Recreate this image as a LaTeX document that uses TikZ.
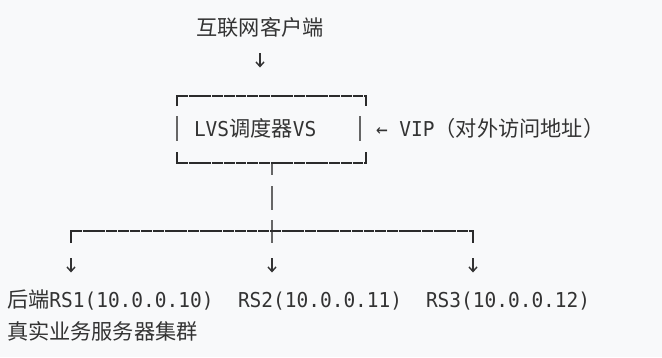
\documentclass[tikz,border=0pt]{standalone}
\usepackage{fontspec}
\setmainfont{DejaVu Sans Mono}[FakeStretch=0.95]
\newfontfamily\cjk{Noto Sans CJK SC}
\newcommand\cj[1]{{\cjk\fontsize{21.2}{24}\selectfont #1}}
\usetikzlibrary{arrows.meta}
\definecolor{bg}{HTML}{F8F9FA}
\definecolor{ink}{HTML}{333333}
\definecolor{hline}{HTML}{2B2B2B}
\definecolor{vline}{HTML}{666666}
\begin{document}
\begin{tikzpicture}[x=1pt,y=-1pt,
  txt/.style={inner sep=0pt,outer sep=0pt,text=ink,font=\fontsize{20.5}{24}\selectfont},
  hrule/.style={draw=hline,line width=2pt,dash pattern=on 10.9pt off 0.8pt},
  corner/.style={draw=hline,line width=2pt},
  vrule/.style={draw=vline,line width=2pt},
  downarr/.style={draw=ink,line width=1.4pt,-{Straight Barb[length=4.5pt,width=8pt]}}]
\fill[bg] (0,0) rectangle (662,357);
\useasboundingbox (0,0) rectangle (662,357);

% title and top arrow
\node[txt,anchor=center] (client) at (260,27) {\cj{互联网客户端}};
\coordinate (a0s) at (260,53);
\coordinate (a0e) at (260,67.5);
\draw[downarr] (a0s) -- (a0e);

% LVS box
\coordinate (tl) at (177,96);
\coordinate (tr) at (366,96);
\coordinate (bl) at (177,163);
\coordinate (br) at (366,163);
\draw[hrule] (tl) -- (tr);
\draw[corner] (177,106) -- (tl) -- (178,96);
\draw[corner] (365,96) -- (tr) -- (366,106);
\draw[hrule] (bl) -- (br);
\draw[corner] (177,152) -- (bl) -- (178,163);
\draw[corner] (365,163) -- (br) -- (366,152);
\draw[vrule] (177,116) -- (177,141);
\draw[vrule] (360,116) -- (360,141);
\node[txt,anchor=base west] (lvs) at (194,136) {LVS\cj{调度器}VS};
\node[txt,anchor=base west] (vip) at (376,136) {← VIP\cj{（对外访问地址）}};

% stem
\coordinate (s0) at (272,164);
\coordinate (s1) at (272,175);
\coordinate (s2) at (272,186);
\coordinate (s3) at (272,210);
\coordinate (s4) at (272,220);
\coordinate (s5) at (272,243);
\draw[vrule] (s0) -- (s1);
\draw[vrule] (s2) -- (s3);
\draw[vrule] (s4) -- (s5);

% branch
\coordinate (hl) at (71,231);
\coordinate (hr) at (473,231);
\draw[hrule] (hl) -- (hr);
\draw[corner] (71,243) -- (hl) -- (72,231);
\draw[corner] (472,231) -- (hr) -- (473,243);

% arrows to servers
\coordinate (a1s) at (71,258);  \coordinate (a1e) at (71,272.5);
\coordinate (a2s) at (272,258); \coordinate (a2e) at (272,272.5);
\coordinate (a3s) at (473,258); \coordinate (a3e) at (473,272.5);
\draw[downarr] (a1s) -- (a1e);
\draw[downarr] (a2s) -- (a2e);
\draw[downarr] (a3s) -- (a3e);

% servers
\node[txt,anchor=base west] (rs1) at (7,307) {\cj{后端}RS1(10.0.0.10)};
\node[txt,anchor=base west] (rs2) at (238,307) {RS2(10.0.0.11)};
\node[txt,anchor=base west] (rs3) at (426,307) {RS3(10.0.0.12)};
\node[txt,anchor=base west] (cluster) at (7,339) {\cj{真实业务服务器集群}};
\end{tikzpicture}
\end{document}
